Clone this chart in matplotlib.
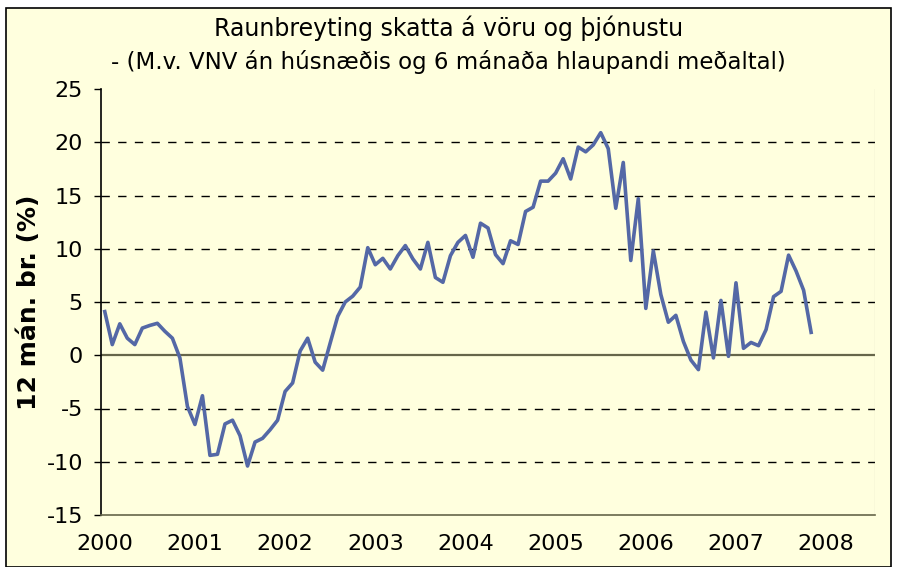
import matplotlib
matplotlib.use('Agg')
import matplotlib.pyplot as plt
from matplotlib.patches import Rectangle

# 12 mánaða breyting, mánaðargildi frá jan 2000
values = [4.1, 1.0, 2.95, 1.6, 1.0, 2.55, 2.8, 3.0, 2.25, 1.6,
          -0.25, -4.8, -6.5, -3.8, -9.4, -9.3, -6.45, -6.1, -7.55, -10.4,
          -8.15, -7.8, -7.0, -6.1, -3.4, -2.6, 0.4, 1.6, -0.65, -1.4,
          1.15, 3.65, 5.0, 5.55, 6.4, 10.1, 8.5, 9.1, 8.1, 9.35,
          10.3, 9.05, 8.1, 10.6, 7.3, 6.85, 9.35, 10.6, 11.25, 9.2,
          12.4, 11.95, 9.45, 8.6, 10.75, 10.4, 13.5, 13.9, 16.35, 16.35,
          17.1, 18.45, 16.55, 19.55, 19.1, 19.75, 20.9, 19.4, 13.8, 18.1,
          8.9, 14.7, 4.4, 9.8, 5.7, 3.1, 3.75, 1.3, -0.45, -1.35,
          4.05, -0.25, 5.15, -0.1, 6.8, 0.65, 1.2, 0.9, 2.4, 5.5,
          6.0, 9.4, 7.9, 6.1, 2.15]
years = ['2000', '2001', '2002', '2003', '2004', '2005', '2006', '2007', '2008']
yticks = [-15, -10, -5, 0, 5, 10, 15, 20, 25]

bg = '#FFFFDE'
line_color = '#5468A6'

fig = plt.figure(figsize=(8.97, 5.67), dpi=100)
fig.patch.set_facecolor('white')
fig.patches.append(Rectangle((6 / 897, 0.0), 885 / 897, 1 - 8 / 567,
                             transform=fig.transFigure, facecolor=bg,
                             edgecolor='black', linewidth=1.2, zorder=-10))

ax = fig.add_axes([101 / 897, 1 - 515 / 567, 774 / 897, 426 / 567])
ax.set_zorder(1)
ax.set_facecolor(bg)

x = list(range(len(values)))
ax.plot(x, values, color=line_color, linewidth=2.6, zorder=3)

ax.set_xlim(-0.5, 102.5)
ax.set_ylim(-15, 25)
ax.set_yticks(yticks)
ax.set_yticklabels([str(v) for v in yticks], fontsize=16)
ax.set_xticks([i * 12 for i in range(len(years))])
ax.set_xticklabels(years, fontsize=16)
ax.tick_params(axis='x', length=0, pad=14)
ax.tick_params(axis='y', length=5, width=1, direction='out', pad=8)

for v in yticks[1:-1]:
    if v == 0:
        ax.axhline(v, color='#66664A', linewidth=1.6, zorder=2)
    else:
        ax.axhline(v, color='black', linewidth=1.0, linestyle=(0, (6, 6)), zorder=2)

for side in ['top', 'right']:
    ax.spines[side].set_visible(False)
ax.spines['left'].set_color('black')
ax.spines['left'].set_linewidth(1.2)
ax.spines['bottom'].set_color('#66664A')
ax.spines['bottom'].set_linewidth(1.2)
ax.axvline(102.5, color='#999988', linewidth=0.8)

ax.set_ylabel('12 mán. br. (%)', fontsize=18, fontweight='bold', labelpad=4)

fig.text(0.5, 1 - 28 / 567, 'Raunbreyting skatta á vöru og þjónustu',
         ha='center', va='center', fontsize=17)
fig.text(0.5, 1 - 62 / 567, '- (M.v. VNV án húsnæðis og 6 mánaða hlaupandi meðaltal)',
         ha='center', va='center', fontsize=16.5)

fig.savefig('out.png', dpi=100, facecolor='white')
